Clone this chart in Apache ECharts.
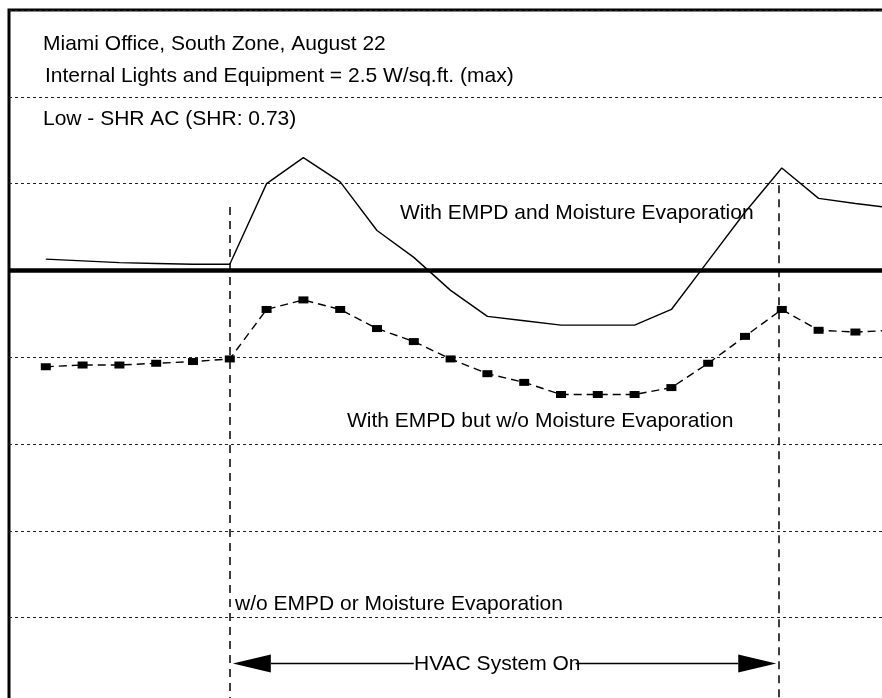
<!DOCTYPE html>
<html>
<head>
<meta charset="utf-8">
<title>Miami Office, South Zone, August 22</title>
<script src="https://cdn.jsdelivr.net/npm/echarts@6/dist/echarts.min.js"></script>
<style>
  html, body { margin: 0; padding: 0; background: #fff; }
  #chart { width: 882px; height: 698px; }
</style>
</head>
<body>
<div id="chart"></div>
<script>
// Hour of day for each plotted value
const hours = [1, 2, 3, 4, 5, 6, 7, 8, 9, 10, 11, 12, 13, 14, 15, 16, 17, 18, 19, 20, 21, 22, 23, 24];

// With EMPD and moisture evaporation (solid line)
const withEvaporation = [5.13, 5.11, 5.09, 5.08, 5.07, 5.07, 6.00, 6.30, 6.02, 5.46, 5.15, 4.77,
                         4.47, 4.42, 4.37, 4.37, 4.37, 4.55, 5.11, 5.67, 6.18, 5.83, 5.77, 5.72];

// With EMPD but without moisture evaporation (dashed line with square markers)
const withoutEvaporation = [3.89, 3.91, 3.91, 3.93, 3.95, 3.98, 4.55, 4.66, 4.55, 4.33, 4.18, 3.98,
                            3.81, 3.71, 3.57, 3.57, 3.57, 3.65, 3.93, 4.24, 4.55, 4.31, 4.29, 4.31];

// HVAC operating window (hours) and reference levels
const hvacOn = 6;
const hvacOff = 20.93;
const baseline = 5;          // heavy horizontal reference line
const arrowLevel = 0.47;     // height of the "HVAC System On" arrow
const onLineTop = 5.73;      // top of the dashed "on" marker line
const offLineTop = 5.98;     // top of the dashed "off" marker line
const arrowGap = [11.0, 15.4]; // break in the arrow shaft around its label

const pair = (xs, ys) => xs.map((x, i) => [x, ys[i]]);

const FONT = '"Liberation Sans", Arial, Helvetica, sans-serif';
const label = (text, x, y) => ({
  type: 'text', x: x, y: y,
  style: { text, fill: '#000', font: '21px ' + FONT, align: 'left', verticalAlign: 'middle' }
});

const chart = echarts.init(document.getElementById('chart'), null, { renderer: 'canvas' });

chart.setOption({
  animation: false,
  backgroundColor: '#fff',
  grid: {
    left: 9, top: 10, width: 883.2, height: 694.4,
    outerBoundsMode: 'none',
    show: true, borderColor: '#000', borderWidth: 3, backgroundColor: 'transparent'
  },
  xAxis: {
    type: 'value', min: 0, max: 24, interval: 1,
    axisLine: { show: false }, axisTick: { show: false }, axisLabel: { show: false },
    splitLine: { show: false }
  },
  yAxis: {
    type: 'value', min: 0, max: 8, interval: 1,
    axisLine: { show: false }, axisTick: { show: false }, axisLabel: { show: false },
    splitLine: { show: true, lineStyle: { color: '#222', width: 1, type: [3, 3] } }
  },
  series: [
    {
      name: 'With EMPD and Moisture Evaporation',
      type: 'line',
      data: pair(hours, withEvaporation),
      symbol: 'none',
      lineStyle: { color: '#000', width: 1.4 },
      z: 3,
      markLine: {
        silent: true, symbol: 'none', label: { show: false },
        lineStyle: { color: '#000', width: 4.5, type: 'solid' },
        data: [{ yAxis: baseline }]
      }
    },
    {
      name: 'With EMPD but w/o Moisture Evaporation',
      type: 'line',
      data: pair(hours, withoutEvaporation),
      symbol: 'rect',
      symbolSize: [10, 7],
      itemStyle: { color: '#000' },
      lineStyle: { color: '#000', width: 1.4, type: [8, 5] },
      z: 3,
      markLine: {
        silent: true, symbol: 'none', label: { show: false },
        lineStyle: { color: '#000', width: 1.5, type: [8, 6] },
        data: [
          [{ coord: [hvacOn, onLineTop] }, { coord: [hvacOn, 0] }],
          [{ coord: [hvacOff, offLineTop] }, { coord: [hvacOff, 0] }]
        ]
      }
    },
    {
      name: 'HVAC System On',
      type: 'custom',
      silent: true,
      z: 4,
      data: [[hvacOn, hvacOff, arrowLevel]],
      renderItem: (params, api) => {
        const a = api.coord([api.value(0), api.value(2)]);
        const b = api.coord([api.value(1), api.value(2)]);
        const g1 = api.coord([arrowGap[0], api.value(2)]);
        const g2 = api.coord([arrowGap[1], api.value(2)]);
        const inset = 3, len = 38, half = 9;
        const y = a[1];
        const lx = a[0] + inset, rx = b[0] - inset;
        const stroke = { stroke: '#000', lineWidth: 1.5 };
        return {
          type: 'group',
          children: [
            { type: 'polygon', shape: { points: [[lx, y], [lx + len, y - half], [lx + len, y + half]] }, style: { fill: '#000' } },
            { type: 'polygon', shape: { points: [[rx, y], [rx - len, y - half], [rx - len, y + half]] }, style: { fill: '#000' } },
            { type: 'line', shape: { x1: lx + len, y1: y, x2: g1[0], y2: y }, style: stroke },
            { type: 'line', shape: { x1: g2[0], y1: y, x2: rx - len, y2: y }, style: stroke }
          ]
        };
      }
    }
  ],
  graphic: [
    label('Miami Office, South Zone, August 22', 43, 44),
    label('Internal Lights and Equipment = 2.5 W/sq.ft. (max)', 45, 76),
    label('Low - SHR AC (SHR: 0.73)', 43, 119),
    label('With EMPD and Moisture Evaporation', 400, 213),
    label('With EMPD but w/o Moisture Evaporation', 347, 421),
    label('w/o EMPD or Moisture Evaporation', 235, 604),
    label('HVAC System On', 414, 664)
  ]
});
</script>
</body>
</html>
